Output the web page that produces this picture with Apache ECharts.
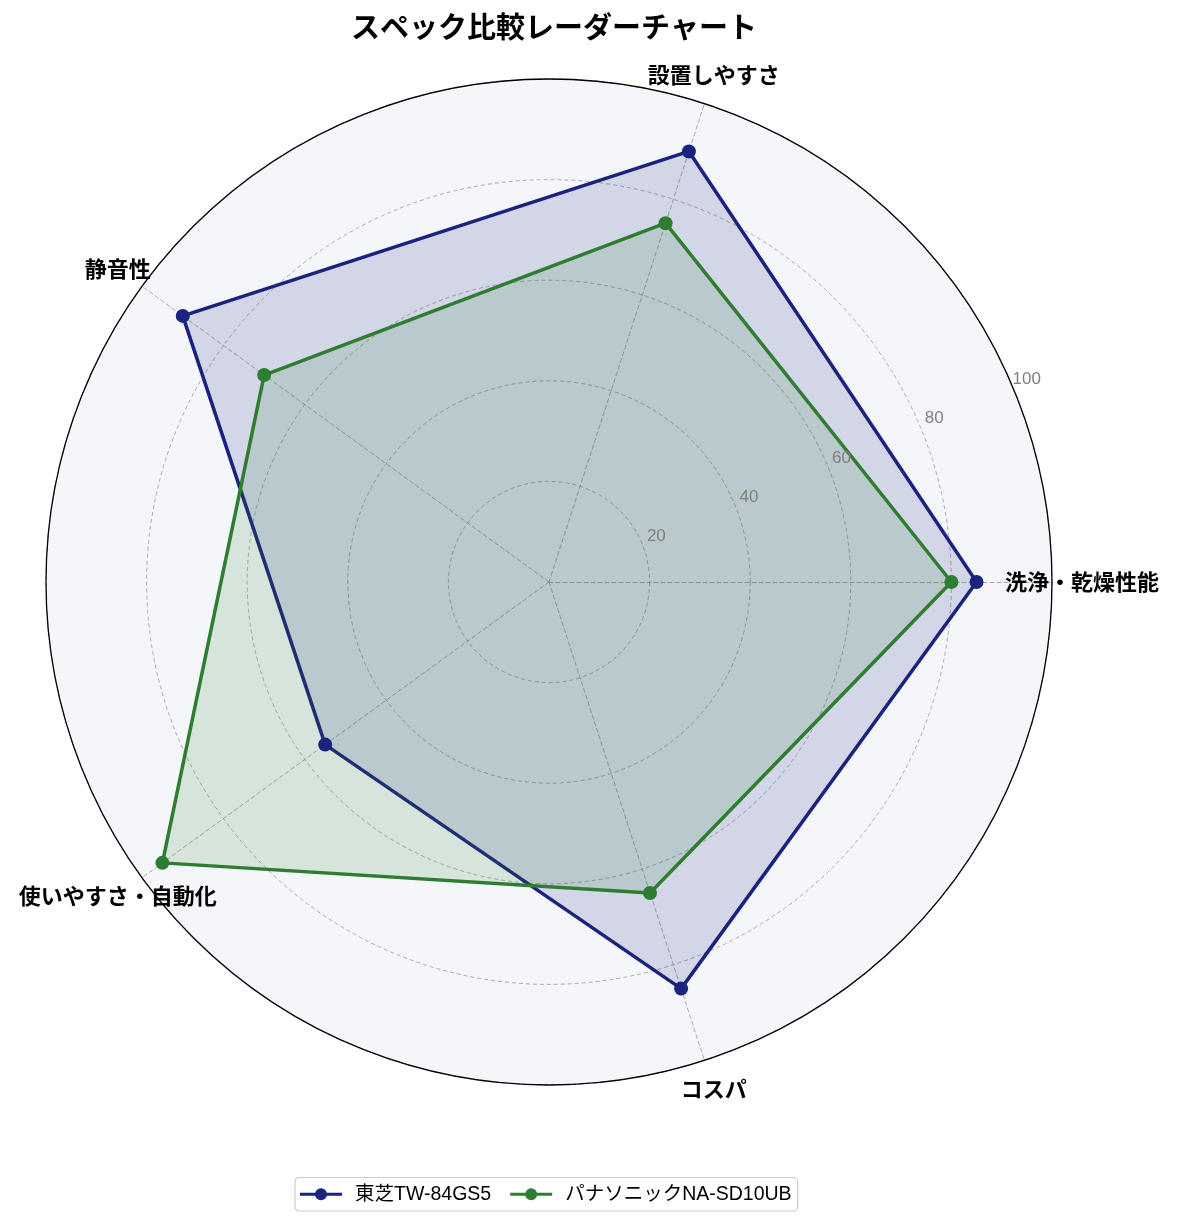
<!DOCTYPE html>
<html>
<head>
<meta charset="utf-8">
<script src="https://cdn.jsdelivr.net/npm/echarts@6/dist/echarts.min.js"></script>
<style>
    html, body { margin: 0; padding: 0; background: #fff; }
    #chartId { width: 1177px; height: 1226px; }
</style>
</head>
<body>
<div id="chartId"></div>
<script>
    // 指標（反時計回り、右から）
    var indicatorNames = ['洗浄・乾燥性能', '設置しやすさ', '静音性', '使いやすさ・自動化', 'コスパ'];
    var seriesNames = ['東芝TW-84GS5', 'パナソニックNA-SD10UB'];
    var toshibaValues = [85, 90, 90, 55, 85];
    var panasonicValues = [80, 75, 70, 95, 65];
    var radiusTicks = [0, 20, 40, 60, 80, 100];
    var lineColors = ['#1a237e', '#2e7d32'];

    var jpFont = '"Noto Sans CJK JP", "Noto Sans", sans-serif';
    var latinFont = '"Liberation Sans", "Noto Sans CJK JP", sans-serif';
    var center = [549, 582];
    var radius = 503;

    var radarChart = echarts.init(document.getElementById('chartId'));

    var indicatorArray = [];
    for (var i = 0; i < indicatorNames.length; i++) {
        indicatorArray.push({name: indicatorNames[i], min: 0, max: radiusTicks[radiusTicks.length - 1]});
    }

    // 凡例アイコン（線＋丸）
    var legendIcon = 'path://M0,5.5L42,5.5L42,8.5L0,8.5Z M27,7A6,6 0 1,1 15,7A6,6 0 1,1 27,7Z';

    var option = {
        backgroundColor: '#fff',
        title: {
            text: 'スペック比較レーダーチャート',
            left: center[0],
            textAlign: 'center',
            top: 7,
            textStyle: {fontFamily: jpFont, fontSize: 29, fontWeight: 'bold', color: '#000'}
        },
        legend: {
            data: seriesNames,
            bottom: 15,
            left: 295,
            icon: legendIcon,
            itemWidth: 42,
            itemHeight: 14,
            itemGap: 19,
            borderColor: '#cccccc',
            borderWidth: 1.2,
            borderRadius: 4,
            padding: [7, 6, 7, 5],
            textStyle: {fontFamily: latinFont, fontSize: 19.5, color: '#000', padding: [0, 0, 0, 8]}
        },
        radar: {
            center: center,
            radius: radius,
            startAngle: 0,
            shape: 'circle',
            splitNumber: 5,
            indicator: indicatorArray,
            nameGap: 30,
            axisName: {
                fontFamily: jpFont,
                fontSize: 22,
                fontWeight: 'bold',
                color: '#000',
                align: 'center',
                verticalAlign: 'middle'
            },
            axisLine: {lineStyle: {color: '#999', type: [4, 3], width: 0.8}},
            splitLine: {lineStyle: {color: '#999', type: [4, 3], width: 0.8}},
            splitArea: {show: true, areaStyle: {color: ['#f4f6fa']}}
        },
        // 外周線と目盛りラベル
        polar: [
            {center: center, radius: radius},
            {center: center, radius: [16, radius + 16]}
        ],
        angleAxis: [
            {
                polarIndex: 0,
                type: 'value',
                min: 0,
                max: 360,
                z: 5,
                axisLine: {show: true, lineStyle: {color: '#000', width: 1.3}},
                axisTick: {show: false},
                axisLabel: {show: false},
                splitLine: {show: false}
            },
            {
                polarIndex: 1,
                type: 'value',
                min: 0,
                max: 360,
                startAngle: 23,
                axisLine: {show: false},
                axisTick: {show: false},
                axisLabel: {show: false},
                splitLine: {show: false}
            }
        ],
        radiusAxis: [
            {
                polarIndex: 0,
                type: 'value',
                min: 0,
                max: 100,
                show: false
            },
            {
                polarIndex: 1,
                type: 'value',
                min: 0,
                max: 100,
                interval: 20,
                z: 5,
                axisLine: {show: false},
                axisTick: {show: false},
                splitLine: {show: false},
                axisLabel: {
                    fontFamily: latinFont,
                    fontSize: 17,
                    color: '#808080',
                    margin: 0,
                    align: 'center',
                    verticalAlign: 'middle',
                    formatter: function (v) { return v === 0 ? '' : v; }
                }
            }
        ],
        series: [
            {
                name: seriesNames[0],
                type: 'radar',
                symbol: 'circle',
                symbolSize: 14,
                z: 3,
                itemStyle: {color: lineColors[0]},
                lineStyle: {color: lineColors[0], width: 3.5},
                areaStyle: {color: lineColors[0], opacity: 0.15},
                data: [{name: seriesNames[0], value: toshibaValues}]
            },
            {
                name: seriesNames[1],
                type: 'radar',
                symbol: 'circle',
                symbolSize: 14,
                z: 3,
                itemStyle: {color: lineColors[1]},
                lineStyle: {color: lineColors[1], width: 3.5},
                areaStyle: {color: lineColors[1], opacity: 0.15},
                data: [{name: seriesNames[1], value: panasonicValues}]
            }
        ]
    };
    radarChart.setOption(option);
</script>
</body>
</html>
